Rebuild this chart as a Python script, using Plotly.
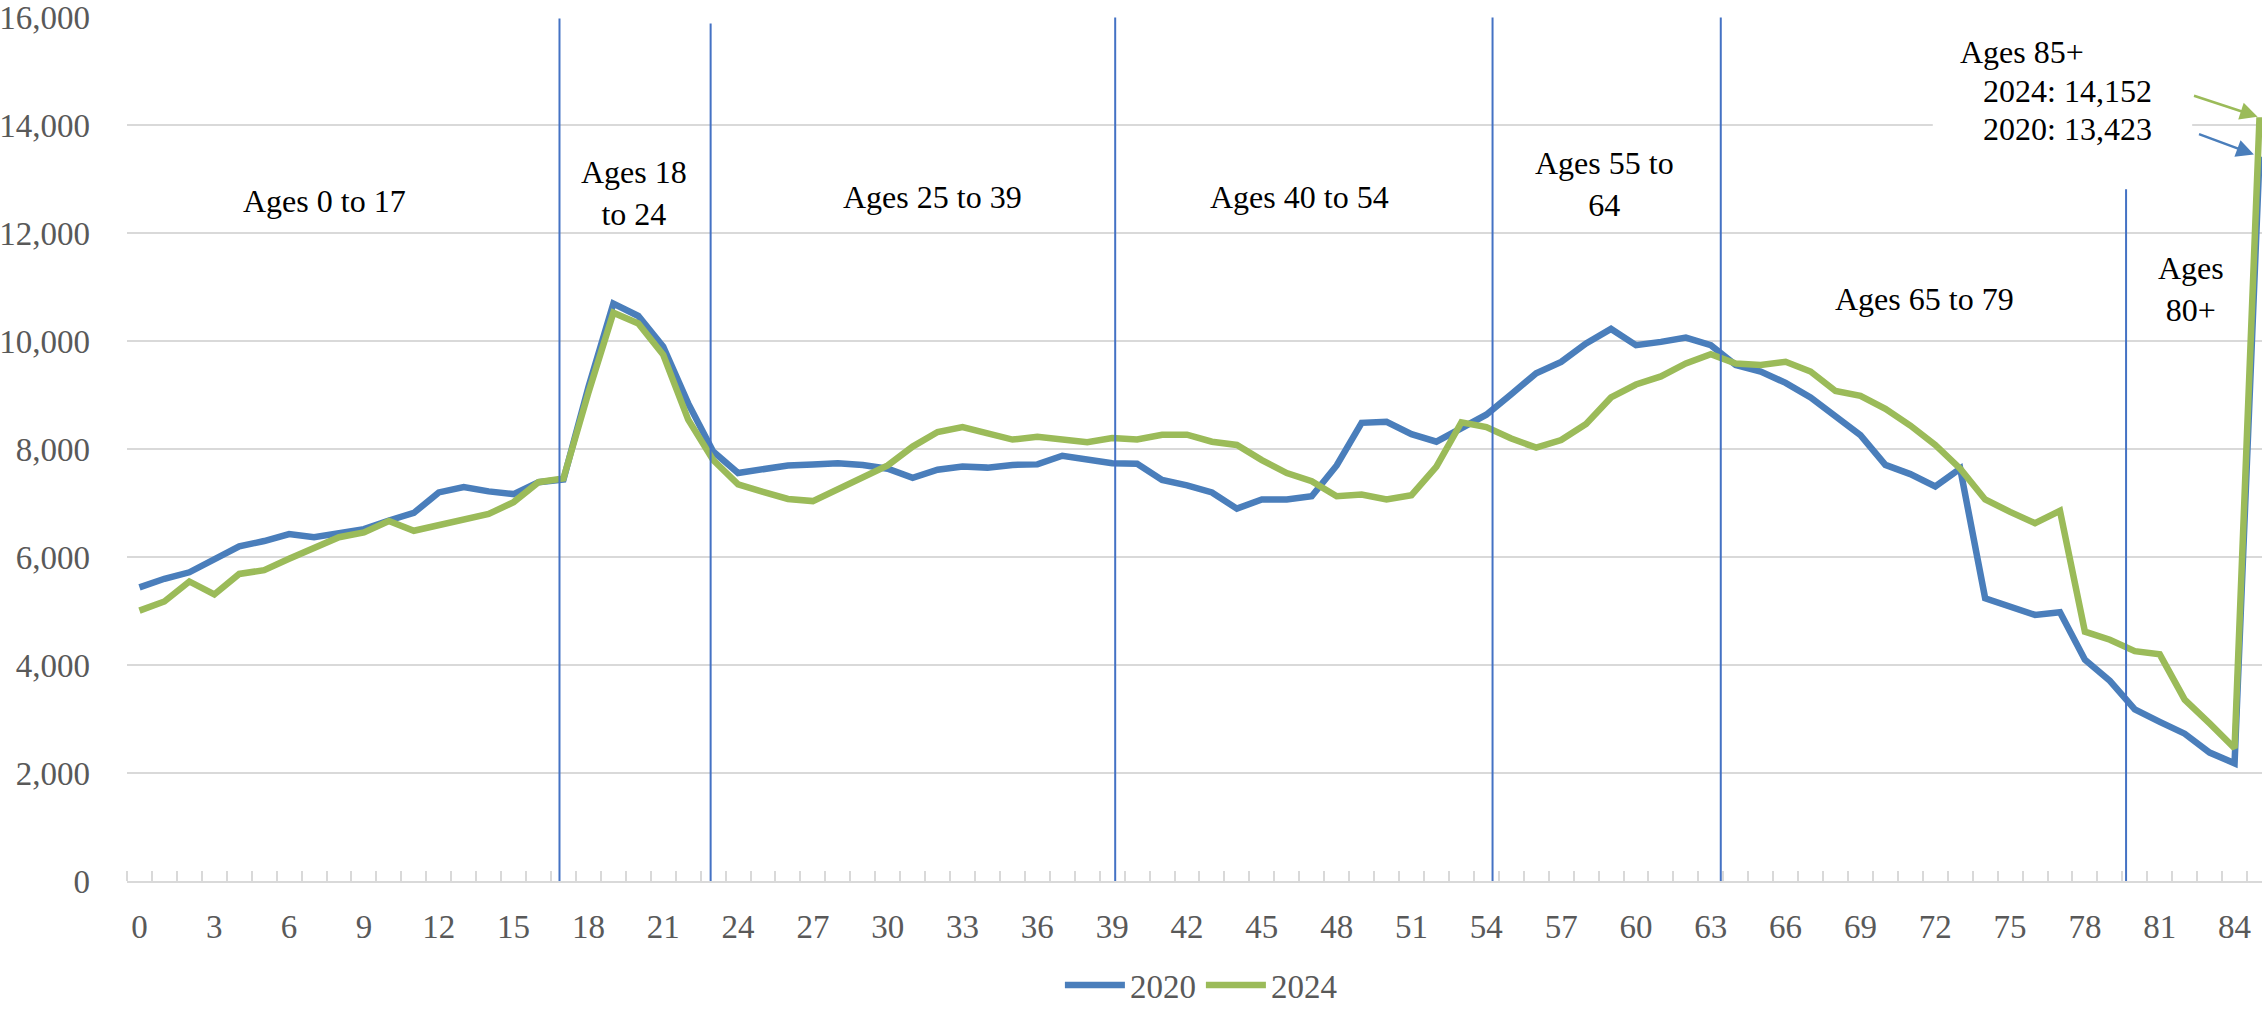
import plotly.graph_objects as go

# ---- data ----
ages = list(range(86))  # last point = 85+
tick_vals = list(range(0, 85, 3))
tick_text = [str(v) for v in tick_vals]

pop_2020 = [5440, 5600, 5720, 5960, 6200, 6300, 6430, 6370, 6460, 6520,
            6680, 6820, 7200, 7300, 7220, 7170, 7390, 7440, 9150, 10700,
            10470, 9900, 8850, 7960, 7560, 7640, 7700, 7720, 7740, 7710,
            7640, 7470, 7620, 7680, 7660, 7710, 7720, 7880, 7810, 7740,
            7730, 7430, 7330, 7200, 6900, 7070, 7070, 7130, 7700, 8490,
            8510, 8280, 8140, 8380, 8640, 9020, 9410, 9620, 9960, 10230,
            9930, 9990, 10070, 9930, 9560, 9440, 9230, 8960, 8620, 8260,
            7710, 7540, 7310, 7640, 5240, 5080, 4930, 4980, 4100, 3710,
            3180, 2950, 2730, 2380, 2180, 13423]

pop_2024 = [5010, 5180, 5550, 5310, 5690, 5760, 5970, 6160, 6370, 6460,
            6670, 6490, 6600, 6690, 6800, 7020, 7390, 7460, 9050, 10530,
            10330, 9750, 8550, 7800, 7350, 7210, 7080, 7040, 7270, 7480,
            7700, 8050, 8320, 8410, 8290, 8180, 8230, 8170, 8130, 8210,
            8180, 8270, 8270, 8140, 8080, 7800, 7560, 7410, 7130, 7160,
            7070, 7150, 7680, 8500, 8410, 8200, 8030, 8170, 8470, 8960,
            9200, 9350, 9590, 9760, 9590, 9560, 9620, 9440, 9080, 8990,
            8750, 8440, 8080, 7640, 7070, 6840, 6630, 6860, 4620, 4470,
            4260, 4200, 3360, 2920, 2460, 14152]

group_labels = ["Ages 0 to 17", "Ages 18<br>to 24", "Ages 25 to 39", "Ages 40 to 54",
                "Ages 55 to<br>64", "Ages 65 to 79", "Ages<br>80+"]

BLUE = "#4A7EBB"
GREEN = "#9BBB59"
SEP = "#4472C4"
GRID = "#D9D9D9"
FONT = "Liberation Serif"

fig = go.Figure()
fig.add_trace(go.Scatter(x=ages, y=pop_2020, mode="lines", name="2020",
                         line=dict(color=BLUE, width=6.5)))
fig.add_trace(go.Scatter(x=ages, y=pop_2024, mode="lines", name="2024",
                         line=dict(color=GREEN, width=6.5)))

# separator lines (decorative)
seps = [(16.84, 15980), (22.9, 15890), (39.12, 16000), (54.25, 16000), (63.4, 16000), (79.65, 12820)]
shapes = []
for sx, top in seps:
    shapes.append(dict(type="line", xref="x", yref="y", x0=sx, x1=sx, y0=0, y1=top,
                       line=dict(color=SEP, width=2), layer="above"))
# white box behind the 85+ callout
shapes.append(dict(type="rect", xref="x", yref="y", x0=71.9, x1=82.3, y0=13560, y1=15700,
                   fillcolor="white", line=dict(width=0), layer="between"))

label_pos = [(7.43, 12600), (19.84, 12740), (31.8, 12670), (46.5, 12670),
             (58.73, 12920), (71.55, 10790), (82.26, 10970)]
annotations = []
for txt, (ax_, ay_) in zip(group_labels, label_pos):
    annotations.append(dict(x=ax_, y=ay_, xref="x", yref="y", text=txt, showarrow=False,
                            font=dict(family=FONT, size=32, color="black"), align="center"))

annotations += [
    dict(x=72.9, y=15360, xref="x", yref="y", text="Ages 85+", showarrow=False,
         xanchor="left", font=dict(family=FONT, size=32, color="black")),
    dict(x=73.82, y=14630, xref="x", yref="y", text="2024: 14,152", showarrow=False,
         xanchor="left", font=dict(family=FONT, size=32, color="black")),
    dict(x=73.82, y=13930, xref="x", yref="y", text="2020: 13,423", showarrow=False,
         xanchor="left", font=dict(family=FONT, size=32, color="black")),
    dict(x=ages[-1], y=pop_2024[-1], xref="x", yref="y", text="", showarrow=True,
         ax=-67, ay=-22, arrowhead=2, arrowsize=1.4, arrowwidth=2.5, arrowcolor=GREEN, standoff=2),
    dict(x=ages[-1], y=pop_2020[-1], xref="x", yref="y", text="", showarrow=True,
         ax=-62, ay=-23, arrowhead=2, arrowsize=1.4, arrowwidth=2.5, arrowcolor=BLUE, standoff=6),
]

fig.update_layout(
    width=2262, height=1013,
    margin=dict(l=127, r=0, t=17, b=121),
    paper_bgcolor="white", plot_bgcolor="white",
    font=dict(family=FONT, size=33, color="#595959"),
    shapes=shapes, annotations=annotations,
    showlegend=True,
    legend=dict(orientation="h", x=0.503, y=-0.121, xanchor="center", yanchor="middle",
                font=dict(family=FONT, size=33, color="#595959"), itemwidth=60,
                traceorder="normal"),
    xaxis=dict(range=[-0.5, 85.1], tickmode="array", tickvals=tick_vals, ticktext=tick_text,
               showgrid=False, zeroline=False, showline=True, linecolor=GRID, linewidth=2,
               ticks="", ticklabelstandoff=15, automargin=False,
               minor=dict(tickmode="linear", tick0=-0.5, dtick=1, ticks="inside", ticklen=10,
                          tickcolor=GRID, tickwidth=2, showgrid=False)),
    yaxis=dict(range=[0, 16010], tickmode="array", tickvals=list(range(0, 16001, 2000)),
               tickformat=",", showgrid=True, gridcolor=GRID,
               gridwidth=2, zeroline=False, ticks="", ticklabelstandoff=36, automargin=False),
)

fig.write_html("out.html", config={"displayModeBar": False},
               post_script="document.body.style.margin='0';document.body.style.overflow='hidden';")
